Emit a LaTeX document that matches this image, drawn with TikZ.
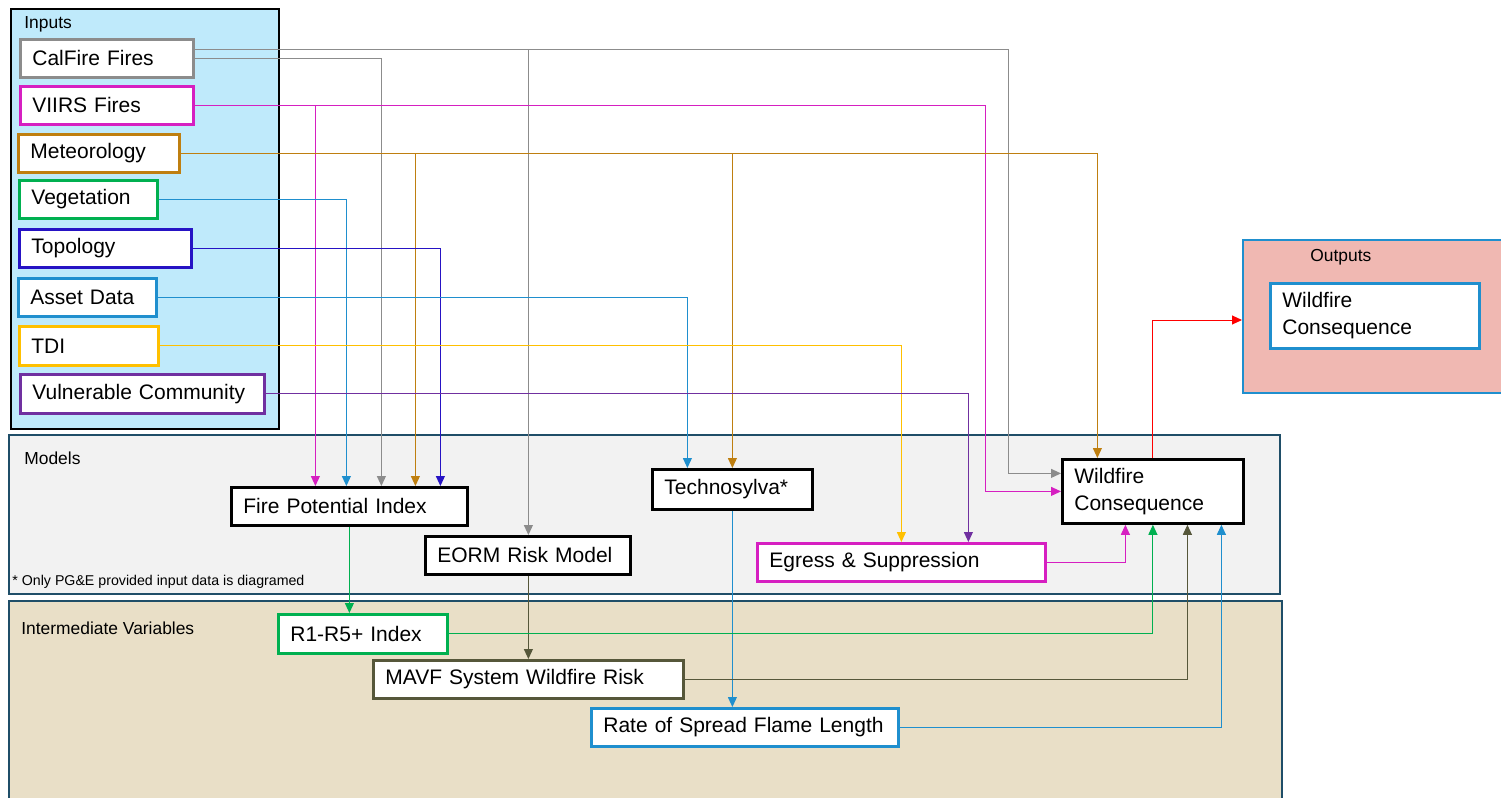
\documentclass[tikz,border=0pt]{standalone}
\usepackage{fontspec}
\setmainfont{Liberation Sans}
\usetikzlibrary{arrows.meta}
\definecolor{inputfill}{HTML}{BFEAFB}
\definecolor{modelfill}{HTML}{F2F2F2}
\definecolor{interfill}{HTML}{E9DFC7}
\definecolor{outfill}{HTML}{F0B8B2}
\definecolor{frameline}{HTML}{1F4E68}
\definecolor{cgray}{HTML}{8C8C8C}
\definecolor{cmag}{HTML}{D61FC1}
\definecolor{cmet}{HTML}{BF7F10}
\definecolor{cgreen}{HTML}{00B050}
\definecolor{ctopo}{HTML}{2613C4}
\definecolor{cblue}{HTML}{1F8FCE}
\definecolor{cyel}{HTML}{FFC000}
\definecolor{cpur}{HTML}{7030A0}
\definecolor{colive}{HTML}{56573A}
\definecolor{cred}{HTML}{FF0000}
\begin{document}
\begin{tikzpicture}[x=0.5pt, y=-0.5pt,
    panel/.style={anchor=north west, inner sep=0pt, line width=1pt},
    tag/.style={anchor=west, inner sep=0pt, font=\fontsize{8.7}{10}\selectfont},
    card/.style 2 args={draw=#1, fill=white, line width=1.4pt, anchor=north west, text width=#2,
        inner xsep=6pt, inner ysep=0pt, minimum height=19pt, align=left, font=\fontsize{10.5}{13.5}\selectfont},
    wire/.style={line width=0.5pt, -{Triangle[length=5pt,width=4.5pt]}}]
        \useasboundingbox (0,0) rectangle (1501,798);

        \node[panel, draw=black, fill=inputfill, minimum width=134pt, minimum height=210pt] (inputs) at (10,8) {};
        \node[panel, draw=frameline, fill=modelfill, minimum width=635.5pt, minimum height=79.5pt] (models) at (8,434) {};
        \node[panel, draw=frameline, fill=interfill, minimum width=636.5pt, minimum height=105pt] (inter) at (8,600) {};
        \node[panel, draw=cblue, fill=outfill, minimum width=135pt, minimum height=76.5pt] (outputs) at (1242,239) {};

        \node[tag] (inputslabel) at (24,24) {Inputs};
        \node[tag] (outputslabel) at (1310,257) {Outputs};
        \node[tag] (modelslabel) at (24,458) {Models};
        \node[tag] (interlabel) at (21,628) {Intermediate Variables};
        \node[tag, font=\fontsize{7.1}{9}\selectfont] (note) at (12,582) {* Only PG\&E provided input data is diagramed};

        \node[card={cgray}{74.5pt}] (calfire) at (19,38) {CalFire Fires};
        \node[card={cmag}{74.5pt}] (viirs) at (19,85) {VIIRS Fires};
        \node[card={cmet}{68.5pt}] (meteo) at (17,133) {Meteorology};
        \node[card={cgreen}{57pt}] (veg) at (18,179) {Vegetation};
        \node[card={ctopo}{74pt}] (topo) at (18,228) {Topology};
        \node[card={cblue}{57pt}] (asset) at (17,277) {Asset Data};
        \node[card={cyel}{57.5pt}, minimum height=19.5pt] (tdi) at (18,325) {TDI};
        \node[card={cpur}{110pt}, minimum height=19.5pt] (vuln) at (19,373) {Vulnerable Community};

        \node[card={black}{106pt}] (fpi) at (230,486) {Fire Potential Index};
        \node[card={black}{90.5pt}] (eorm) at (424,535) {EORM Risk Model};
        \node[card={black}{68pt}, minimum height=20pt] (techno) at (651,468) {Technosylva*};
        \node[card={cmag}{132pt}] (egress) at (756,542) {Egress \& Suppression};
        \node[card={black}{78.5pt}, minimum height=32pt] (wc) at (1061,458) {Wildfire\\Consequence};

        \node[card={cgreen}{72.5pt}, minimum height=19.5pt] (r1r5) at (277,613) {R1-R5+ Index};
        \node[card={colive}{143pt}] (mavf) at (372,659) {MAVF System Wildfire Risk};
        \node[card={cblue}{141.5pt}] (ros) at (590,707) {Rate of Spread Flame Length};

        \node[card={cblue}{92.5pt}, minimum height=32.5pt] (outwc) at (1269,282) {Wildfire\\Consequence};

        \draw[wire, cgray] ([yshift=4.5pt]calfire.east) -| ([xshift=-26.5pt,yshift=9pt]wc.west) -- ([yshift=9pt]wc.west);
        \draw[wire, cgray] ([yshift=4.5pt]calfire.east) -| (mavf.north |- eorm.north);
        \draw[wire, cgray] (calfire.east) -| ([xshift=16pt]fpi.north);
        \draw[wire, cmag] (viirs.east) -| ([xshift=-38pt]wc.west) -- (wc.west);
        \draw[wire, cmag] (viirs.east) -| ([xshift=-17pt]fpi.north);
        \draw[wire, cmet] (meteo.east) -| ([xshift=-27.75pt]wc.north);
        \draw[wire, cmet] (meteo.east) -| ([xshift=33pt]fpi.north);
        \draw[wire, cmet] (meteo.east) -| (techno.north);
        \draw[wire, cblue] (veg.east) -| ([xshift=-1.5pt]fpi.north);
        \draw[wire, ctopo] (topo.east) -| ([xshift=45.5pt]fpi.north);
        \draw[wire, cblue] (asset.east) -| ([xshift=-22.5pt]techno.north);
        \draw[wire, cyel] (tdi.east) -| (egress.north);
        \draw[wire, cpur] (vuln.east) -| ([xshift=33.5pt]egress.north);

        \draw[wire, cgreen] (fpi.south) -- (fpi.south |- r1r5.north);
        \draw[wire, colive] (mavf.north |- eorm.south) -- (mavf.north);
        \draw[wire, cblue] (techno.south) -- (techno.south |- ros.north);

        \draw[wire, cmag] (egress.east) -| ([xshift=-13.75pt]wc.south);
        \draw[wire, cgreen] (r1r5.east) -| (wc.south);
        \draw[wire, colive] (mavf.east) -| ([xshift=17.25pt]wc.south);
        \draw[wire, cblue] (ros.east) -| ([xshift=34.25pt]wc.south);
        \draw[wire, cred] (wc.north) |- ([yshift=-1.75pt]outputs.west);
    \end{tikzpicture}
\end{document}
